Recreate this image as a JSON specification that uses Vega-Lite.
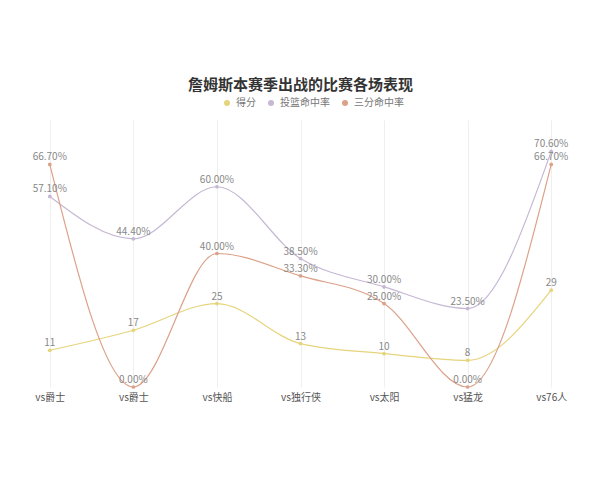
{
  "$schema": "https://vega.github.io/schema/vega-lite/v6.json",
  "autosize": "none",
  "width": 585,
  "height": 267,
  "padding": {"left": 8, "top": 120, "right": 7, "bottom": 93},
  "background": "white",
  "title": {
    "text": "詹姆斯本赛季出战的比赛各场表现",
    "font": "Noto Sans CJK SC",
    "fontSize": 15,
    "fontWeight": "bold",
    "color": "#333333",
    "anchor": "middle",
    "offset": 5
  },
  "config": {
    "view": {"stroke": null},
    "font": "Noto Sans CJK SC"
  },
  "data": {
    "values": [
      {"i": 0, "game": "vs爵士", "metric": "得分", "value": 11},
      {"i": 1, "game": "vs爵士", "metric": "得分", "value": 17},
      {"i": 2, "game": "vs快船", "metric": "得分", "value": 25},
      {"i": 3, "game": "vs独行侠", "metric": "得分", "value": 13},
      {"i": 4, "game": "vs太阳", "metric": "得分", "value": 10},
      {"i": 5, "game": "vs猛龙", "metric": "得分", "value": 8},
      {"i": 6, "game": "vs76人", "metric": "得分", "value": 29},
      {"i": 0, "game": "vs爵士", "metric": "投篮命中率", "value": 57.1},
      {"i": 1, "game": "vs爵士", "metric": "投篮命中率", "value": 44.4},
      {"i": 2, "game": "vs快船", "metric": "投篮命中率", "value": 60.0},
      {"i": 3, "game": "vs独行侠", "metric": "投篮命中率", "value": 38.5},
      {"i": 4, "game": "vs太阳", "metric": "投篮命中率", "value": 30.0},
      {"i": 5, "game": "vs猛龙", "metric": "投篮命中率", "value": 23.5},
      {"i": 6, "game": "vs76人", "metric": "投篮命中率", "value": 70.6},
      {"i": 0, "game": "vs爵士", "metric": "三分命中率", "value": 66.7},
      {"i": 1, "game": "vs爵士", "metric": "三分命中率", "value": 0},
      {"i": 2, "game": "vs快船", "metric": "三分命中率", "value": 40.0},
      {"i": 3, "game": "vs独行侠", "metric": "三分命中率", "value": 33.3},
      {"i": 4, "game": "vs太阳", "metric": "三分命中率", "value": 25.0},
      {"i": 5, "game": "vs猛龙", "metric": "三分命中率", "value": 0},
      {"i": 6, "game": "vs76人", "metric": "三分命中率", "value": 66.7}
    ]
  },
  "transform": [
    {
      "calculate": "datum.metric == '得分' ? format(datum.value, 'd') : format(datum.value, '.2f') + '%'",
      "as": "label"
    }
  ],
  "encoding": {
    "x": {
      "field": "i",
      "type": "ordinal",
      "scale": {"paddingInner": 0, "paddingOuter": 0}
    },
    "y": {
      "field": "value",
      "type": "quantitative",
      "scale": {"domain": [0, 80], "nice": false},
      "axis": null
    },
    "color": {
      "field": "metric",
      "type": "nominal",
      "scale": {
        "domain": ["得分", "投篮命中率", "三分命中率"],
        "range": ["#e6d47c", "#c6b8d4", "#dca189"]
      },
      "legend": {
        "orient": "none",
        "legendX": 214,
        "legendY": -22,
        "direction": "horizontal",
        "title": null,
        "symbolType": "circle",
        "symbolSize": 36,
        "symbolStrokeWidth": 0,
        "labelFontSize": 10,
        "labelColor": "#777777",
        "labelOffset": 4,
        "columnPadding": 10
      }
    }
  },
  "layer": [
    {
      "mark": {"type": "line", "interpolate": "monotone", "strokeWidth": 1.2},
      "encoding": {
        "x": {
          "field": "i",
          "type": "ordinal",
          "axis": {
            "title": null,
            "labelAngle": 0,
            "labelExpr": "['vs爵士','vs爵士','vs快船','vs独行侠','vs太阳','vs猛龙','vs76人'][datum.value]",
            "labelFontSize": 10,
            "labelColor": "#555555",
            "labelPadding": 5,
            "domain": false,
            "ticks": false,
            "grid": false
          }
        }
      }
    },
    {
      "mark": {"type": "point", "filled": true, "size": 14, "opacity": 1},
      "encoding": {
        "x": {
          "field": "i",
          "type": "ordinal",
          "axis": {
            "title": null,
            "labels": false,
            "domain": false,
            "ticks": false,
            "grid": true,
            "bandPosition": 0,
            "gridColor": "#efefef",
            "gridWidth": 1
          }
        }
      }
    },
    {
      "mark": {
        "type": "text",
        "baseline": "middle",
        "dy": -7,
        "fontSize": 10,
        "color": "#888888"
      },
      "encoding": {
        "x": {"field": "i", "type": "ordinal", "axis": null},
        "text": {"field": "label"},
        "color": {"value": "#888888"}
      }
    }
  ],
  "resolve": {"axis": {"x": "independent"}}
}
